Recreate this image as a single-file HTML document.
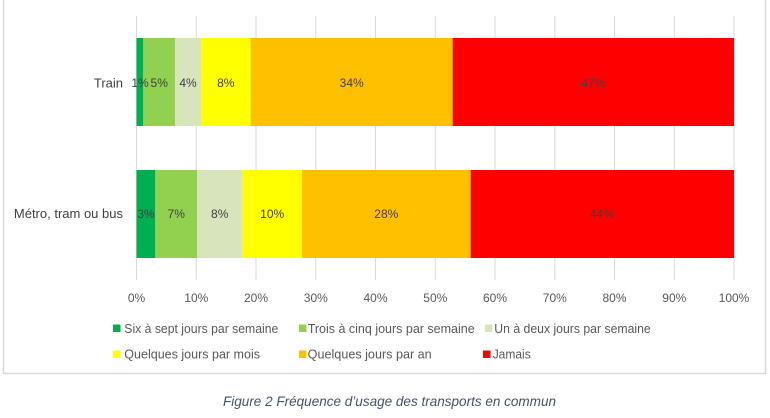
<!DOCTYPE html>
<html>
<head>
<meta charset="utf-8">
<style>
  html, body { margin: 0; padding: 0; background: #ffffff; }
  body { width: 770px; height: 418px; overflow: hidden; }
  svg { display: block; }
  text { font-family: "Liberation Sans", sans-serif; }
</style>
</head>
<body>
<svg width="770" height="418" viewBox="0 0 770 418" xmlns="http://www.w3.org/2000/svg">
  <rect x="0" y="0" width="770" height="418" fill="#ffffff"/>
  <!-- frame -->
  <path d="M3.5,-2 L3.5,373.5 L765.5,373.5 L765.5,-2" fill="none" stroke="#d9d9d9" stroke-width="1.5"/>

  <!-- gridlines -->
  <g stroke="#d9d9d9" stroke-width="1">
    <line x1="136.5" y1="16" x2="136.5" y2="280"/>
    <line x1="196.3" y1="16" x2="196.3" y2="280"/>
    <line x1="256" y1="16" x2="256" y2="280"/>
    <line x1="315.8" y1="16" x2="315.8" y2="280"/>
    <line x1="375.5" y1="16" x2="375.5" y2="280"/>
    <line x1="435.3" y1="16" x2="435.3" y2="280"/>
    <line x1="495" y1="16" x2="495" y2="280"/>
    <line x1="554.8" y1="16" x2="554.8" y2="280"/>
    <line x1="614.5" y1="16" x2="614.5" y2="280"/>
    <line x1="674.3" y1="16" x2="674.3" y2="280"/>
    <line x1="734" y1="16" x2="734" y2="280"/>
  </g>

  <!-- Train bar -->
  <rect x="136.5" y="38" width="6.8" height="88" fill="#00b050"/>
  <rect x="143.3" y="38" width="31.7" height="88" fill="#92d050"/>
  <rect x="175" y="38" width="26" height="88" fill="#d8e4bc"/>
  <rect x="201" y="38" width="49.7" height="88" fill="#ffff00"/>
  <rect x="250.7" y="38" width="202" height="88" fill="#ffc000"/>
  <rect x="452.7" y="38" width="281.3" height="88" fill="#ff0000"/>

  <!-- Metro bar -->
  <rect x="136.5" y="170" width="18.8" height="88" fill="#00b050"/>
  <rect x="155.3" y="170" width="41.7" height="88" fill="#92d050"/>
  <rect x="197" y="170" width="45.3" height="88" fill="#d8e4bc"/>
  <rect x="242.3" y="170" width="59.7" height="88" fill="#ffff00"/>
  <rect x="302" y="170" width="168.7" height="88" fill="#ffc000"/>
  <rect x="470.7" y="170" width="263.3" height="88" fill="#ff0000"/>

  <!-- bar labels -->
  <g font-size="12" fill="#404040" text-anchor="middle">
    <text x="140" y="87">1%</text>
    <text x="159.2" y="87">5%</text>
    <text x="188" y="87">4%</text>
    <text x="225.8" y="87">8%</text>
    <text x="351.7" y="87">34%</text>
    <text x="593.3" y="87">47%</text>

    <text x="145.9" y="218">3%</text>
    <text x="176.2" y="218">7%</text>
    <text x="219.7" y="218">8%</text>
    <text x="272.2" y="218">10%</text>
    <text x="386.3" y="218">28%</text>
    <text x="602" y="218">44%</text>
  </g>

  <!-- category labels -->
  <g font-size="13" fill="#404040" text-anchor="end">
    <text x="123" y="87.5">Train</text>
    <text x="123" y="218">Métro, tram ou bus</text>
  </g>

  <!-- tick labels -->
  <g font-size="12" fill="#595959" text-anchor="middle">
    <text x="136.5" y="302">0%</text>
    <text x="196.3" y="302">10%</text>
    <text x="256" y="302">20%</text>
    <text x="315.8" y="302">30%</text>
    <text x="375.5" y="302">40%</text>
    <text x="435.3" y="302">50%</text>
    <text x="495" y="302">60%</text>
    <text x="554.8" y="302">70%</text>
    <text x="614.5" y="302">80%</text>
    <text x="674.3" y="302">90%</text>
    <text x="734" y="302">100%</text>
  </g>

  <!-- legend -->
  <rect x="113" y="324.5" width="7.5" height="7.5" fill="#00b050"/>
  <rect x="299" y="324.5" width="7.5" height="7.5" fill="#92d050"/>
  <rect x="485" y="324.5" width="7.5" height="7.5" fill="#d8e4bc"/>
  <rect x="113" y="350.5" width="7.5" height="7.5" fill="#ffff00"/>
  <rect x="299" y="350.5" width="7.5" height="7.5" fill="#ffc000"/>
  <rect x="483" y="350.5" width="7.5" height="7.5" fill="#ff0000"/>
  <g font-size="12.5" fill="#595959">
    <text x="124.3" y="332.8" textLength="154" lengthAdjust="spacingAndGlyphs">Six à sept jours par semaine</text>
    <text x="307.7" y="332.8" textLength="167" lengthAdjust="spacingAndGlyphs">Trois à cinq jours par semaine</text>
    <text x="494.3" y="332.8" textLength="156.4" lengthAdjust="spacingAndGlyphs">Un à deux jours par semaine</text>
    <text x="124.3" y="358.5" textLength="135.7" lengthAdjust="spacingAndGlyphs">Quelques jours par mois</text>
    <text x="307.7" y="358.5" textLength="124" lengthAdjust="spacingAndGlyphs">Quelques jours par an</text>
    <text x="492.7" y="358.5" textLength="38" lengthAdjust="spacingAndGlyphs">Jamais</text>
  </g>

  <!-- caption -->
  <text x="223" y="406" font-size="14" font-style="italic" fill="#44546a" textLength="333" lengthAdjust="spacingAndGlyphs">Figure 2 Fréquence d’usage des transports en commun</text>
</svg>
</body>
</html>
